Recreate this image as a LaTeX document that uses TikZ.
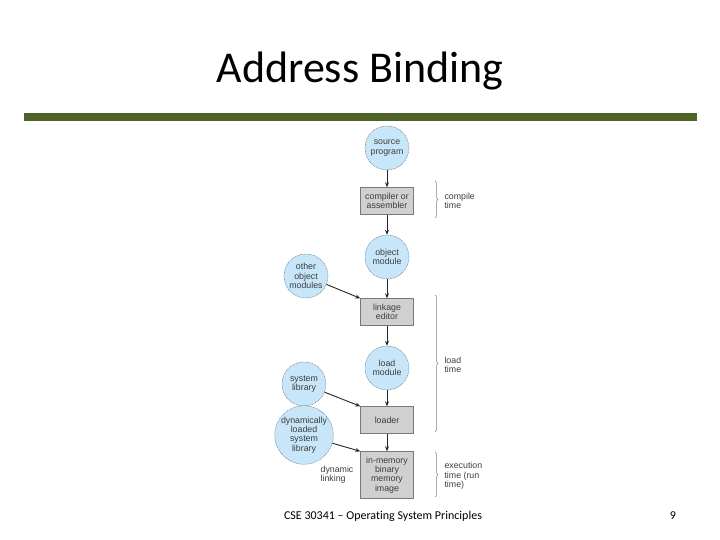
\documentclass[tikz,border=0pt]{standalone}
\usepackage{fontspec}
\setmainfont{Carlito}[Ligatures=NoCommon]
\newfontfamily\diagfont{Liberation Sans}
\usetikzlibrary{positioning, arrows.meta, decorations.pathreplacing}
\definecolor{barOlive}{RGB}{79, 98, 40}
\definecolor{modBlue}{RGB}{200, 230, 250}
\definecolor{modEdge}{RGB}{90, 105, 120}
\definecolor{stageGray}{RGB}{208, 208, 208}
\definecolor{stageEdge}{RGB}{120, 120, 120}
\definecolor{txtGray}{RGB}{60, 60, 60}

\begin{document}
\begin{tikzpicture}[
    x=1pt, y=-1pt,
    font=\diagfont\fontsize{8.8}{9.4}\selectfont\color{txtGray},
    mod/.style={circle, draw=modEdge, dashed, dash pattern=on 1pt off 0.8pt, fill=modBlue, minimum size=44pt, inner sep=0pt, align=center},
    stage/.style={rectangle, draw=stageEdge, fill=stageGray, minimum width=53pt, minimum height=27pt, inner sep=1pt, align=center},
    arr/.style={-{Stealth[length=5pt, width=4pt]}, line width=0.9pt, black!85},
    brc/.style={decorate, decoration={brace, amplitude=3pt}, draw=black!50, line width=0.5pt},
    note/.style={anchor=west, align=left}
]
\useasboundingbox (0,0) rectangle (720,540);

% slide frame
\node[font=\fontsize{44}{48}\selectfont\color{black}, anchor=base] (title) at (360,83) {Address Binding};
\fill[barOlive] (24,113) rectangle (697,121);
\node[font=\fontsize{12}{14}\selectfont\color{black}, anchor=base] (foot) at (383,519) {CSE 30341 -- Operating System Principles};
\node[font=\fontsize{12}{14}\selectfont\color{black}, anchor=base] (page) at (673,519) {9};

% main chain
\node[mod] (src) at (387,148) {source\\program};
\node[stage] (comp) at (387,201) {compiler or\\assembler};
\node[mod] (obj) at (387,257) {object\\module};
\node[stage] (link) at (387,312) {linkage\\editor};
\node[mod] (load) at (387,368) {load\\module};
\node[stage] (ldr) at (387,420) {loader};
\node[stage, minimum height=47pt] (mem) at (387,475) {in-memory\\binary\\memory\\image};

% side inputs
\node[mod] (other) at (306,276) {other\\object\\modules};
\node[mod] (syslib) at (304,384) {system\\library};
\node[mod, minimum size=48pt] (dynlib) at (304,435) {dynamically\\loaded\\system\\library};
\node[align=left] (dynlink) at (337,475) {dynamic\\linking};

\draw[arr] (src) -- (comp);
\draw[arr] (comp) -- (obj);
\draw[arr] (obj) -- (link);
\draw[arr] (link) -- (load);
\draw[arr] (load) -- (ldr);
\draw[arr] (ldr) -- (mem);
\draw[arr] (other) -- (link.north west);
\draw[arr] (syslib) -- (ldr.north west);
\draw[arr] (dynlib) -- (mem.north west);

% binding times
\coordinate (ct1) at (435,181); \coordinate (ct2) at (435,218);
\coordinate (lt1) at (435,295); \coordinate (lt2) at (435,432);
\coordinate (et1) at (435,452); \coordinate (et2) at (435,497);
\draw[brc] (ct1) -- (ct2);
\draw[brc] (lt1) -- (lt2);
\draw[brc] (et1) -- (et2);
\node[note] (ctime) at (441,201) {compile\\time};
\node[note] (ltime) at (441,365) {load\\time};
\node[note] (etime) at (441,476) {execution\\time (run\\time)};
\end{tikzpicture}
\end{document}
